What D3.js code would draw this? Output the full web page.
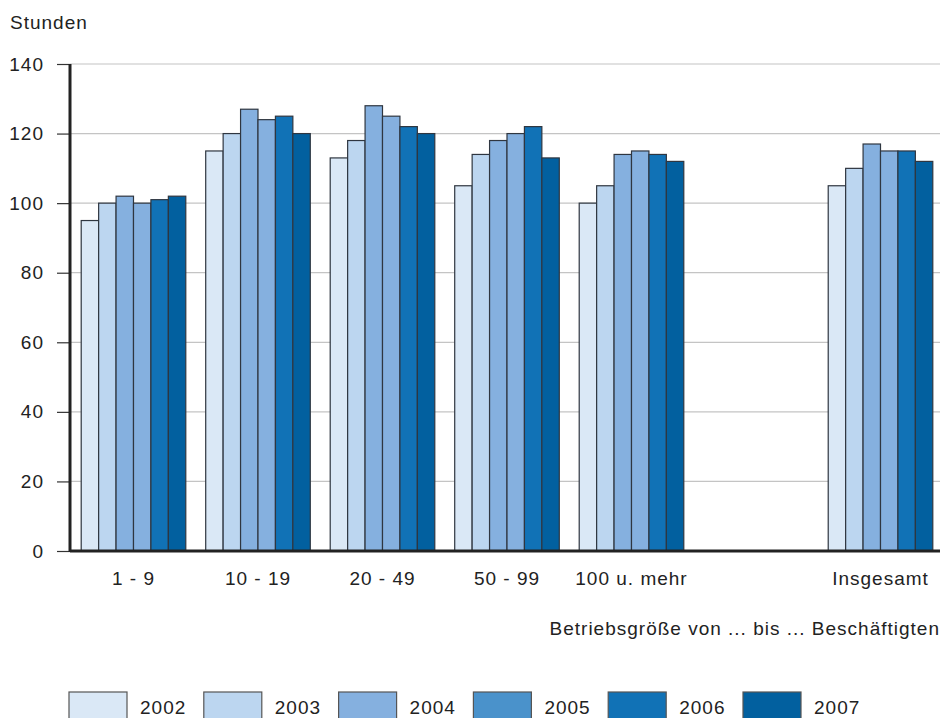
<!DOCTYPE html>
<html>
<head>
<meta charset="utf-8">
<script src="https://cdn.jsdelivr.net/npm/d3@7"></script>
<style>
  body { margin: 0; background: #fff; }
  text { font-family: "Liberation Sans", Arial, sans-serif; fill: #222; letter-spacing: 1px; }
</style>
</head>
<body>
<div id="chart"></div>
<script>
// data
const categories = ["1 - 9", "10 - 19", "20 - 49", "50 - 99", "100 u. mehr", "", "Insgesamt"];
const years = ["2002", "2003", "2004", "2005", "2006", "2007"];
const values = {
  "1 - 9":       [95, 100, 102, 100, 101, 102],
  "10 - 19":     [115, 120, 127, 124, 125, 120],
  "20 - 49":     [113, 118, 128, 125, 122, 120],
  "50 - 99":     [105, 114, 118, 120, 122, 113],
  "100 u. mehr": [100, 105, 114, 115, 114, 112],
  "Insgesamt":   [105, 110, 117, 115, 115, 112]
};
const yTicks = [0, 20, 40, 60, 80, 100, 120, 140];
const barColors = ["#dae8f6", "#bcd6f0", "#85b0df", "#85b0df", "#1172b6", "#02609f"];
const legendColors = ["#dae8f6", "#bcd6f0", "#85b0df", "#4a92cb", "#1172b6", "#02609f"];

const width = 944, height = 718;
const margin = { top: 64, right: 0, bottom: 167, left: 70 };
const fontSize = "19px";

const svg = d3.select("#chart").append("svg")
  .attr("width", width)
  .attr("height", height);

const x = d3.scaleBand()
  .domain(categories)
  .range([margin.left, width - margin.right])
  .paddingInner(0.16)
  .paddingOuter(0.09);

const xInner = d3.scaleBand()
  .domain(years)
  .range([0, x.bandwidth()]);

const y = d3.scaleLinear()
  .domain([0, 140])
  .range([height - margin.bottom, margin.top]);

// gridlines
svg.append("g")
  .selectAll("line")
  .data(yTicks.filter(d => d > 0))
  .join("line")
  .attr("x1", margin.left)
  .attr("x2", 940)
  .attr("y1", d => y(d))
  .attr("y2", d => y(d))
  .attr("stroke", "#c4c4c4")
  .attr("stroke-width", 1.2);

// y axis
const yAxis = svg.append("g")
  .attr("transform", `translate(${margin.left},0)`)
  .call(d3.axisLeft(y).tickValues(yTicks).tickSize(13).tickPadding(13));
yAxis.select(".domain").remove();
yAxis.selectAll(".tick line").attr("stroke", "#333").attr("stroke-width", 1.2);
yAxis.selectAll(".tick text")
  .style("font-size", fontSize)
  .attr("fill", "#222");

// bars
const groups = svg.append("g")
  .selectAll("g")
  .data(categories.filter(c => values[c]))
  .join("g")
  .attr("transform", d => `translate(${x(d)},0)`);

groups.selectAll("rect")
  .data(d => values[d].map((v, i) => ({ year: years[i], value: v, i })))
  .join("rect")
  .attr("x", d => xInner(d.year))
  .attr("y", d => y(d.value))
  .attr("width", xInner.bandwidth())
  .attr("height", d => y(0) - y(d.value))
  .attr("fill", d => barColors[d.i])
  .attr("stroke", "#2f3640")
  .attr("stroke-width", 1.2);

// axis lines
svg.append("line")
  .attr("x1", margin.left).attr("x2", margin.left)
  .attr("y1", y(140)).attr("y2", y(0) + 1)
  .attr("stroke", "#222").attr("stroke-width", 3);
svg.append("line")
  .attr("x1", margin.left).attr("x2", 940)
  .attr("y1", y(0)).attr("y2", y(0))
  .attr("stroke", "#222").attr("stroke-width", 3);

// category labels
svg.append("g")
  .selectAll("text")
  .data(categories.filter(c => c))
  .join("text")
  .attr("x", d => x(d) + x.bandwidth() / 2)
  .attr("y", 585)
  .attr("text-anchor", "middle")
  .style("font-size", fontSize)
  .text(d => d);

// titles
svg.append("text")
  .attr("x", 10).attr("y", 29)
  .style("font-size", fontSize)
  .text("Stunden");

svg.append("text")
  .attr("x", 940).attr("y", 635)
  .attr("text-anchor", "end")
  .style("font-size", fontSize)
  .text("Betriebsgröße von ... bis ... Beschäftigten");

// legend
const lx = d3.scalePoint()
  .domain(years)
  .range([69, 743]);

const legend = svg.append("g")
  .selectAll("g")
  .data(years)
  .join("g")
  .attr("transform", d => `translate(${lx(d)},692)`);

legend.append("rect")
  .attr("width", 58)
  .attr("height", 30)
  .attr("fill", (d, i) => legendColors[i])
  .attr("stroke", "#555")
  .attr("stroke-width", 1.2);

legend.append("text")
  .attr("x", 71)
  .attr("y", 22)
  .style("font-size", fontSize)
  .text(d => d);
</script>
</body>
</html>
